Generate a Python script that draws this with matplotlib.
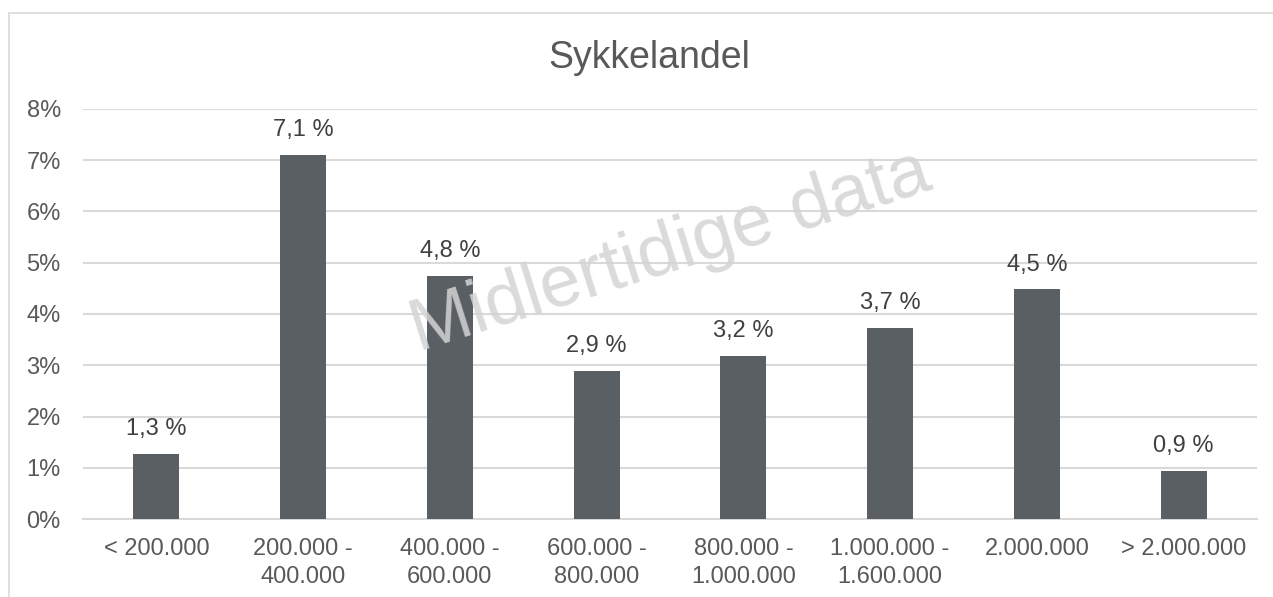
import matplotlib.pyplot as plt
from matplotlib.patches import Rectangle

# data
categories = ["< 200.000", "200.000 -\n400.000", "400.000 -\n600.000", "600.000 -\n800.000",
              "800.000 -\n1.000.000", "1.000.000 -\n1.600.000", "2.000.000", "> 2.000.000"]
values = [1.27, 7.10, 4.75, 2.89, 3.18, 3.73, 4.48, 0.93]
labels = ["1,3 %", "7,1 %", "4,8 %", "2,9 %", "3,2 %", "3,7 %", "4,5 %", "0,9 %"]
yticks = [0, 1, 2, 3, 4, 5, 6, 7, 8]

plt.rcParams["font.family"] = ["Liberation Sans", "DejaVu Sans"]
txt = "#595959"

fig = plt.figure(figsize=(12.73, 5.97), dpi=100)
ax = fig.add_axes([83 / 1273, 1 - 519 / 597, (1257 - 83) / 1273, (519 - 109) / 597])

# chart frame
fig.patches.append(Rectangle((9 / 1273, -0.1), 1.2, 1 - 13 / 597 + 0.1, transform=fig.transFigure,
                             fill=False, edgecolor="#d9d9d9", linewidth=1.2))

x = range(len(categories))
ax.bar(x, values, width=0.315, color="#595f63", zorder=3)
for i, v in enumerate(values):
    ax.annotate(labels[i], (i, v), xytext=(0, 10), textcoords="offset points",
                ha="center", va="bottom", fontsize=17, color="#404040")

ax.set_xlim(-0.5, len(categories) - 0.5)
ax.set_ylim(0, 8)
ax.set_yticks(yticks)
ax.set_yticklabels([f"{t}%" for t in yticks])
ax.set_xticks(list(x))
ax.set_xticklabels(categories, linespacing=1.3)
ax.tick_params(axis="both", length=0, labelsize=17, labelcolor=txt)
ax.tick_params(axis="y", pad=16)
ax.tick_params(axis="x", pad=14)
ax.grid(axis="y", color="#d9d9d9", linewidth=1.5, zorder=0)
for s in ["top", "right", "left"]:
    ax.spines[s].set_visible(False)
ax.spines["bottom"].set_color("#d9d9d9")
ax.spines["bottom"].set_linewidth(1.5)

fig.text(649 / 1273, 1 - 58 / 597, "Sykkelandel", ha="center", va="center", fontsize=27, color=txt)

# watermark
fig.text(670 / 1273, 1 - 252 / 597, "Midlertidige data", ha="center", va="center",
         fontsize=53, color="#d4d4d4", rotation=17.5, alpha=0.85, zorder=10)

fig.savefig("out.png", dpi=100)
